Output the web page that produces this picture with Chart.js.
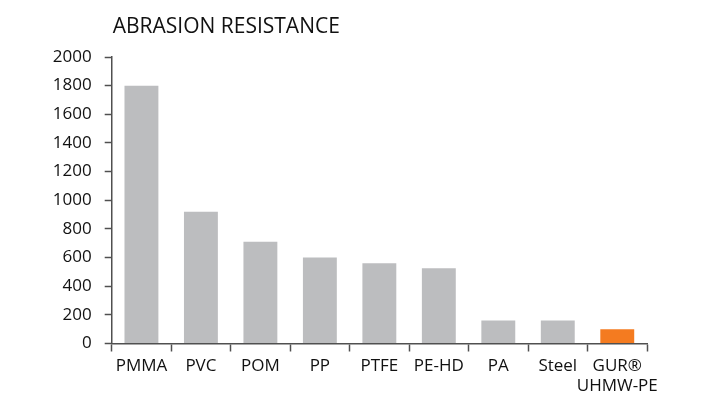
<!DOCTYPE html>
<html>
<head>
<meta charset="utf-8">
<script src="https://cdn.jsdelivr.net/npm/chart.js@4"></script>
<style>
  html, body { margin: 0; padding: 0; background: #fff; }
  #wrap { width: 720px; height: 405px; }
</style>
</head>
<body>
<div id="wrap"><canvas id="abrasionChart"></canvas></div>
<script>
const chartTitle = 'ABRASION RESISTANCE';
const materials = ['PMMA', 'PVC', 'POM', 'PP', 'PTFE', 'PE-HD', 'PA', 'Steel', ['GUR®', 'UHMW-PE']];
const abrasion = [1800, 920, 710, 600, 560, 525, 160, 160, 100];
const barColors = ['#bcbdbf', '#bcbdbf', '#bcbdbf', '#bcbdbf', '#bcbdbf', '#bcbdbf', '#bcbdbf', '#bcbdbf', '#f47b20'];

const FONT = "'Open Sans', 'Liberation Sans', sans-serif";
const AXIS = '#505050';
const TEXT = '#111111';

// title sits flush with the y axis, not centred on the canvas
const titlePlugin = {
    id: 'leftTitle',
    afterDraw(chart) {
        const ctx = chart.ctx;
        ctx.save();
        ctx.font = '21px ' + FONT;
        ctx.fillStyle = TEXT;
        ctx.textBaseline = 'middle';
        ctx.fillText(chartTitle, chart.chartArea.left + 1, 27);
        ctx.restore();
    }
};

const ctx = document.getElementById('abrasionChart').getContext('2d');
const abrasionChart = new Chart(ctx, {
    type: 'bar',
    data: {
        labels: materials,
        datasets: [{
            label: chartTitle,
            data: abrasion,
            backgroundColor: barColors,
            borderWidth: 0,
            categoryPercentage: 1,
            barPercentage: 0.57
        }]
    },
    options: {
        responsive: true,
        maintainAspectRatio: false,
        animation: false,
        layout: {
            padding: { top: 57, right: 73, bottom: 0, left: 0 }
        },
        plugins: {
            legend: { display: false },
            tooltip: { enabled: false }
        },
        scales: {
            x: {
                afterFit: function (scale) { scale.height = 61.5; },
                grid: {
                    offset: true,
                    drawOnChartArea: false,
                    tickLength: 8,
                    tickColor: AXIS,
                    tickWidth: 1.5
                },
                border: { color: AXIS, width: 1.5 },
                ticks: {
                    color: TEXT,
                    padding: 5,
                    maxRotation: 0,
                    autoSkip: false,
                    font: { family: FONT, size: 17, lineHeight: 1.15 }
                }
            },
            y: {
                min: 0,
                max: 2000,
                afterFit: function (scale) { scale.width = 111.7; },
                grid: {
                    drawOnChartArea: false,
                    tickLength: 7,
                    tickColor: AXIS,
                    tickWidth: 1.5
                },
                border: { color: AXIS, width: 1.5 },
                ticks: {
                    stepSize: 200,
                    color: TEXT,
                    padding: 13,
                    font: { family: FONT, size: 17 },
                    callback: function (value) { return String(value); }
                }
            }
        }
    },
    plugins: [titlePlugin]
});
</script>
</body>
</html>
